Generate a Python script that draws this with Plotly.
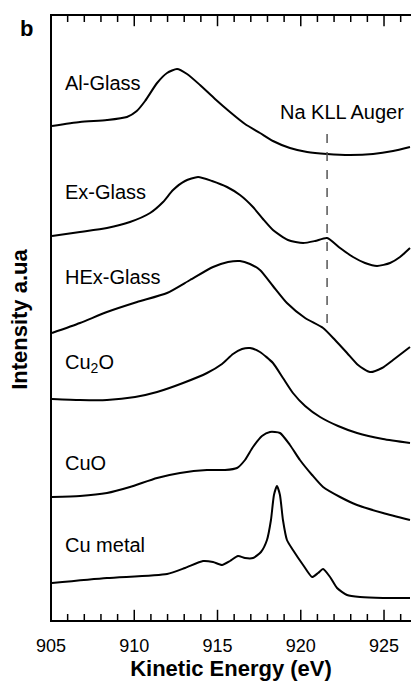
import plotly.graph_objects as go

# Kinetic energy (eV) and offset intensities (a.u.)
al_x = [905.06, 906.74, 908.36, 909.56, 910.15, 910.65, 911.37, 911.97, 912.57, 913.17, 913.95, 914.85, 915.75,
        916.65, 917.55, 918.33, 919.35, 920.38, 921.58, 922.96, 924.34, 925.54, 926.56]
al_y = [495, 499, 501, 504, 510, 520, 538, 548, 552, 547, 536, 522, 509, 497, 488, 480, 473, 469, 467, 466, 467,
        470, 474]

ex_x = [905.06, 906.74, 908.36, 909.74, 910.95, 911.73, 912.33, 913.05, 913.83, 914.67, 915.57, 916.35, 917.13,
        917.73, 918.33, 919.23, 920.14, 920.86, 921.58, 922.36, 923.14, 923.86, 924.58, 925.36, 925.96, 926.56]
ex_y = [385, 389, 393, 399, 408, 419, 431, 440, 444, 440, 434, 426, 414, 402, 391, 381, 378, 380, 383, 373,
        364, 358, 355, 358, 364, 373]

hex_x = [905.06, 906.74, 908.36, 910.17, 911.97, 913.35, 914.73, 915.63, 916.35, 916.95, 917.55, 918.33, 919.17,
         920.26, 921.34, 922.06, 922.78, 923.44, 924.16, 924.88, 925.54, 926.56]
hex_y = [288, 298, 309, 319, 328, 341, 354, 359, 360, 357, 351, 335, 318, 303, 293, 281, 268, 256, 249, 253, 261, 274]

cu2o_x = [905.06, 906.74, 908.36, 910.05, 911.37, 912.93, 914.37, 915.27, 915.93, 916.47, 916.95, 917.55, 918.33,
          918.93, 919.53, 920.26, 921.16, 922.24, 923.38, 924.94, 926.56]
cu2o_y = [222, 221, 221, 224, 229, 238, 248, 257, 267, 272, 273, 269, 258, 243, 228, 215, 204, 195, 188, 182, 178]

cuo_x = [905.06, 906.74, 908.36, 909.74, 911.37, 912.75, 914.37, 915.45, 916.17, 916.65, 917.13, 917.67, 918.15,
         918.75, 919.35, 919.95, 920.68, 921.34, 922.36, 923.38, 924.94, 926.56]
cuo_y = [124, 125, 128, 134, 143, 148, 151, 151, 153, 161, 174, 185, 189, 188, 176, 161, 146, 134, 124, 116, 108, 101]

cu_x = [905.06, 908.36, 911.97, 913.05, 914.13, 914.73, 915.27, 915.75, 916.23, 916.65, 917.13, 917.61, 917.97,
        918.21, 918.39, 918.57, 918.75, 918.93, 919.17, 919.53, 920.14, 920.68, 921.04, 921.34, 921.76, 922.18,
        922.78, 923.56, 924.94, 926.56]
cu_y = [38, 43, 47, 53, 60, 59, 56, 60, 65, 63, 63, 69, 81, 101, 126, 135, 126, 101, 81, 71, 56, 44, 48, 52,
        44, 33, 26, 24, 23, 23]

series = [
    ("Al-Glass", al_x, al_y, 538),
    ("Ex-Glass", ex_x, ex_y, 429),
    ("HEx-Glass", hex_x, hex_y, 344),
    ("Cu<sub>2</sub>O", cu2o_x, cu2o_y, 258),
    ("CuO", cuo_x, cuo_y, 158),
    ("Cu metal", cu_x, cu_y, 76),
]

na_auger_energy = 921.58
na_auger_y = [298, 493]

major_ticks = [905, 910, 915, 920, 925]
minor_ticks = [906, 907, 908, 909, 911, 912, 913, 914, 916, 917, 918, 919, 921, 922, 923, 924, 926]

FONT = "Liberation Sans, Arial, sans-serif"
X_RANGE = [905, 926.62]
Y_RANGE = [0, 606]

fig = go.Figure()
for name, xs, ys, _ in series:
    fig.add_trace(go.Scatter(x=xs, y=ys, mode="lines", name=name,
                             line=dict(color="black", width=2, shape="spline", smoothing=0.6),
                             showlegend=False))

fig.add_trace(go.Scatter(x=[na_auger_energy, na_auger_energy], y=na_auger_y, mode="lines",
                         line=dict(color="#555555", width=1.5, dash="dash"), showlegend=False))

# inward tick marks on bottom and top frame edges (markers centred on the edge, clipped to the plot area)
for ticks, size in [(major_ticks, 16), (minor_ticks, 10)]:
    for edge in Y_RANGE:
        fig.add_trace(go.Scatter(x=ticks, y=[edge] * len(ticks), mode="markers", cliponaxis=True,
                                 marker=dict(symbol="line-ns", size=size,
                                             line=dict(color="black", width=1.5)),
                                 hoverinfo="skip", showlegend=False))

annotations = []
for name, xs, ys, ly in series:
    annotations.append(dict(x=905.72, y=ly, xref="x", yref="y", text=name, showarrow=False,
                            xanchor="left", yanchor="middle", font=dict(size=20, color="black", family=FONT)))
annotations.append(dict(x=918.63, y=509, xref="x", yref="y", text="Na KLL Auger", showarrow=False,
                        xanchor="left", yanchor="middle", font=dict(size=20, color="black", family=FONT)))
annotations.append(dict(x=-0.0667, y=0.977, xref="paper", yref="paper", text="<b>b</b>", showarrow=False,
                        xanchor="center", yanchor="middle", font=dict(size=22, color="black", family=FONT)))
annotations.append(dict(x=-0.086, y=0.497, xref="paper", yref="paper", text="<b>Intensity a.ua</b>",
                        showarrow=False, textangle=-90, xanchor="center", yanchor="middle",
                        font=dict(size=22, color="black", family=FONT)))

fig.update_layout(
    width=411, height=684,
    margin=dict(l=51, r=0, t=15, b=63),
    paper_bgcolor="white", plot_bgcolor="white",
    font=dict(family=FONT, color="black"),
    annotations=annotations,
    xaxis=dict(range=X_RANGE, showline=False, automargin=False,
               ticks="outside", ticklen=8, tickcolor="rgba(0,0,0,0)",
               tickmode="array", tickvals=major_ticks,
               tickfont=dict(size=18, color="black", family=FONT),
               showgrid=False, zeroline=False,
               title=dict(text="<b>Kinetic Energy (eV)</b>", font=dict(size=22, color="black", family=FONT),
                          standoff=2)),
    yaxis=dict(range=Y_RANGE, showline=False, showticklabels=False,
               ticks="", showgrid=False, zeroline=False),
    shapes=[
        dict(type="rect", xref="paper", yref="paper", x0=0, x1=1.02, y0=0, y1=1,
             line=dict(color="black", width=2), fillcolor="rgba(0,0,0,0)", layer="above"),
    ],
)

fig.write_html("out.html")
